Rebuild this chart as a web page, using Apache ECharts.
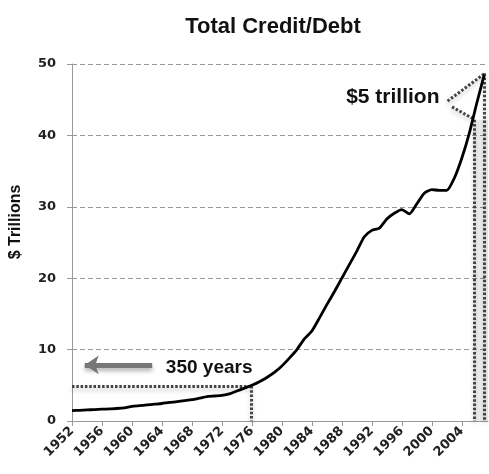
<!DOCTYPE html>
<html>
<head>
<meta charset="utf-8">
<script src="https://cdn.jsdelivr.net/npm/echarts@6/dist/echarts.min.js"></script>
<style>
  html, body { margin: 0; padding: 0; background: #fff; }
  #chart { width: 489px; height: 474px; }
</style>
</head>
<body>
<div id="chart"></div>
<script>
var years = [];
for (var y = 1952; y <= 2007; y++) years.push(y);

// $ trillions
var debt = [
    1.45, 1.5, 1.55, 1.6, 1.65, 1.7, 1.75, 1.85, 2.05, 2.15,
    2.25, 2.35, 2.45, 2.6, 2.7, 2.85, 3.0, 3.2, 3.4, 3.5,
    3.6, 3.8, 4.2, 4.6, 5.0, 5.5, 6.1, 6.8, 7.7, 8.8,
    10.0, 11.5, 12.6, 14.4, 16.3, 18.1, 20.0, 21.9, 23.8, 25.8,
    26.7, 27.0, 28.3, 29.1, 29.6, 29.0, 30.4, 31.9, 32.4, 32.3,
    32.3, 34.0, 36.8, 40.3, 44.5, 48.5
];

var yearTicks = [1952, 1956, 1960, 1964, 1968, 1972, 1976, 1980, 1984, 1988, 1992, 1996, 2000, 2004];

// annotation anchors (year, $T)
var fiveLevel = [[1952, 4.9], [1975.9, 4.9]];
var fiveYear = [[1975.9, 4.9], [1975.9, 0]];
var arrowLine = [[1962.7, 7.85], [1953.7, 7.85]];
var yearsText = [1970.3, 7.5];
var trillionText = [1994.8, 45.3];
var calloutTop = [[2002.1, 44.8], [2007.1, 48.7]];
var calloutBottom = [[2002.7, 44.0], [2005.4, 42.4]];
var spanLeft = [[2005.6, 42.2], [2005.6, 0]];
var spanRight = [[2007.0, 48.7], [2007.0, 0]];

var chart = echarts.init(document.getElementById('chart'));

var dotted = {
    color: '#444',
    width: 3,
    type: [2.5, 1.8],
    shadowColor: 'rgba(0,0,0,0.25)',
    shadowBlur: 4,
    shadowOffsetY: 3
};

function seg(pair) {
    return [{ coord: pair[0] }, { coord: pair[1] }];
}

chart.setOption({
    animation: false,
    title: {
        text: 'Total Credit/Debt',
        left: 268,
        textAlign: 'center',
        top: 11,
        textStyle: {
            fontFamily: 'Liberation Sans',
            fontWeight: 'bold',
            fontSize: 22,
            color: '#111'
        }
    },
    grid: {
        left: 72,
        right: 1,
        top: 64,
        bottom: 53
    },
    graphic: [{
        type: 'text',
        x: 16,
        y: 222,
        rotation: Math.PI / 2,
        style: {
            text: '$ Trillions',
            textAlign: 'center',
            textVerticalAlign: 'middle',
            font: 'bold 16px "Liberation Sans"',
            fill: '#111'
        }
    }],
    xAxis: {
        type: 'value',
        min: 1952,
        max: 2007.5,
        interval: 4,
        splitLine: { show: false },
        axisLine: { lineStyle: { color: '#999', width: 1 } },
        axisTick: {
            customValues: yearTicks,
            length: 5,
            lineStyle: { color: '#999' }
        },
        axisLabel: {
            customValues: yearTicks,
            formatter: function (v) { return String(v); },
            rotate: 45,
            margin: 8,
            fontFamily: 'DejaVu Sans',
            fontWeight: 'bold',
            fontSize: 13,
            color: '#222'
        }
    },
    yAxis: {
        type: 'value',
        min: 0,
        max: 50,
        interval: 10,
        axisLine: { show: true, lineStyle: { color: '#999', width: 1 } },
        axisTick: { show: true, length: 5, lineStyle: { color: '#999' } },
        splitLine: { lineStyle: { color: '#999', type: [5, 3] } },
        axisLabel: {
            margin: 16,
            fontFamily: 'DejaVu Sans',
            fontWeight: 'bold',
            fontSize: 13,
            color: '#222'
        }
    },
    series: [{
        type: 'line',
        data: years.map(function (yr, i) { return [yr, debt[i]]; }),
        showSymbol: false,
        smooth: 0.2,
        z: 5,
        lineStyle: { color: '#000', width: 2.8 },
        markArea: {
            silent: true,
            itemStyle: { color: 'rgba(0,0,0,0.08)' },
            data: [[{ coord: [spanLeft[0][0], 0] }, { coord: [spanRight[0][0] + 0.5, spanLeft[0][1]] }]]
        },
        markLine: {
            silent: true,
            symbol: 'none',
            label: { show: false },
            lineStyle: dotted,
            data: [
                seg(fiveLevel), seg(fiveYear),
                seg(calloutTop), seg(calloutBottom),
                seg(spanLeft), seg(spanRight)
            ]
        },
        markPoint: {
            silent: true,
            symbol: 'circle',
            symbolSize: 1,
            itemStyle: { color: 'transparent' },
            label: {
                show: true,
                position: 'inside',
                fontFamily: 'Liberation Sans',
                fontWeight: 'bold',
                fontSize: 19,
                color: '#111'
            },
            data: [
                { coord: yearsText, value: '350 years', label: { formatter: '350 years' } },
                { coord: trillionText, value: '$5 trillion', label: { formatter: '$5 trillion', fontSize: 21 } }
            ]
        }
    }, {
        type: 'line',
        data: [],
        markLine: {
            silent: true,
            symbol: ['none', 'arrow'],
            symbolSize: [14, 14],
            label: { show: false },
            lineStyle: {
                color: '#777',
                width: 5,
                type: 'solid',
                shadowColor: 'rgba(0,0,0,0.3)',
                shadowBlur: 4,
                shadowOffsetY: 3
            },
            data: [seg(arrowLine)]
        }
    }]
});
</script>
</body>
</html>
